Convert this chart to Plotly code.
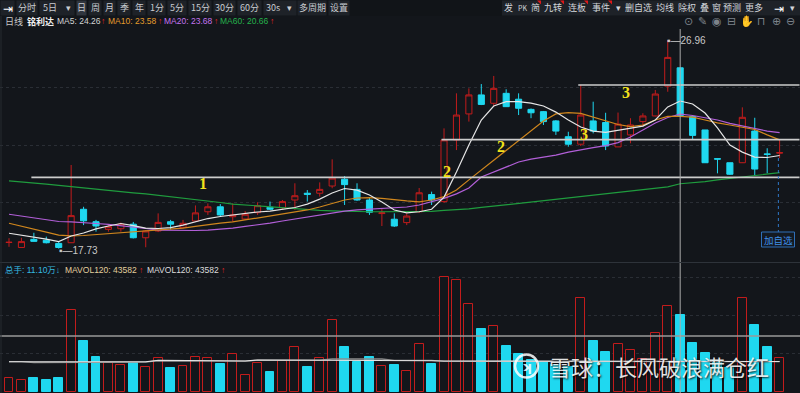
import plotly.graph_objects as go

# ---------------- data ----------------
day_index = list(range(63))
opens = [18.00, 17.78, 18.14, 18.10, 17.96, 17.99, 19.47, 18.92, 18.58, 18.61,
         18.81, 18.21, 18.51, 18.92, 18.67, 18.95, 19.36, 19.58, 19.14, 19.04,
         19.32, 19.56, 19.54, 19.88, 20.18, 20.18, 20.50, 20.80, 20.35, 19.88,
         19.28, 19.03, 18.88, 19.36, 20.12, 19.81, 22.54, 23.69, 24.53, 24.16,
         24.60, 24.34, 23.89, 23.79, 23.38, 22.68, 22.35, 23.38, 23.31, 22.23,
         22.76, 23.35, 23.60, 24.92, 25.73, 23.57, 22.98, 21.71, 21.53, 21.53,
         22.93, 21.92, 21.96]
highs = [18.19, 18.21, 18.43, 18.26, 18.04, 21.43, 19.58, 19.00, 18.77, 18.88,
         18.91, 18.55, 19.29, 19.00, 19.00, 19.64, 19.73, 19.70, 19.73, 19.39,
         19.78, 19.81, 19.88, 20.62, 20.32, 20.66, 21.68, 20.94, 20.62, 19.97,
         19.51, 19.29, 19.29, 20.41, 20.25, 23.05, 24.60, 24.82, 25.01, 25.37,
         24.78, 24.60, 23.93, 23.82, 23.42, 22.90, 24.97, 24.23, 23.74, 23.75,
         23.50, 23.72, 24.75, 26.96, 25.73, 23.57, 22.98, 21.72, 21.53, 23.98,
         23.52, 22.17, 22.54]
lows = [17.81, 17.77, 18.04, 17.96, 17.73, 17.98, 18.77, 18.48, 18.48, 18.48,
        18.18, 17.79, 18.46, 18.58, 18.64, 18.91, 19.22, 19.17, 18.92, 19.00,
        19.22, 19.44, 19.48, 19.44, 19.81, 20.03, 20.40, 19.66, 19.84, 19.22,
        18.73, 18.69, 18.77, 19.31, 19.66, 19.75, 22.09, 23.35, 24.08, 24.01,
        24.00, 23.64, 23.50, 23.20, 22.76, 22.24, 22.27, 22.83, 22.09, 22.23,
        22.39, 23.12, 23.58, 24.67, 23.55, 22.54, 21.52, 21.06, 20.99, 21.52,
        20.96, 21.06, 21.73]
closes = [18.01, 18.04, 18.05, 17.99, 17.78, 19.19, 18.96, 18.73, 18.70, 18.81,
          18.21, 18.51, 18.89, 18.81, 18.85, 19.31, 19.58, 19.22, 19.22, 19.25,
          19.63, 19.47, 19.81, 20.07, 20.13, 20.35, 20.85, 20.56, 19.88, 19.34,
          19.31, 18.73, 19.17, 20.20, 19.88, 22.54, 23.64, 24.53, 24.11, 24.82,
          24.01, 23.94, 23.74, 23.35, 22.93, 22.35, 23.64, 22.93, 22.27, 23.24,
          23.20, 23.60, 24.57, 26.19, 23.61, 22.74, 21.53, 21.69, 21.02, 23.54,
          21.25, 21.90, 21.97]
ma5 = [18.41, 18.33, 18.23, 18.15, 18.04, 18.29, 18.42, 18.60, 18.73, 18.84,
       18.75, 18.64, 18.62, 18.66, 18.77, 18.91, 19.06, 19.15, 19.22, 19.28,
       19.35, 19.39, 19.46, 19.55, 19.70, 19.92, 20.19, 20.39, 20.32, 20.10,
       19.79, 19.44, 19.31, 19.36, 19.47, 20.01, 21.12, 22.31, 23.42, 24.04,
       24.23, 24.23, 24.17, 24.04, 23.77, 23.42, 23.11, 22.93, 22.87, 22.96,
       23.04, 23.15, 23.42, 24.00, 24.26, 24.13, 23.73, 23.07, 22.31, 22.00,
       21.78, 21.76, 21.85]
ma10 = [18.85, 18.73, 18.60, 18.46, 18.33, 18.29, 18.31, 18.35, 18.40, 18.43,
        18.46, 18.51, 18.55, 18.58, 18.64, 18.71, 18.80, 18.86, 18.91, 19.00,
        19.08, 19.17, 19.26, 19.35, 19.44, 19.57, 19.73, 19.88, 19.97, 19.99,
        19.95, 19.88, 19.84, 19.80, 19.88, 20.03, 20.32, 20.77, 21.21, 21.65,
        22.09, 22.54, 22.98, 23.38, 23.69, 23.75, 23.71, 23.55, 23.38, 23.22,
        23.13, 23.20, 23.42, 23.58, 23.58, 23.55, 23.42, 23.29, 23.20, 23.11,
        23.00, 22.76, 22.54]
ma20 = [19.25, 19.17, 19.08, 19.00, 18.93, 18.91, 18.89, 18.84, 18.80, 18.75,
        18.69, 18.62, 18.55, 18.54, 18.52, 18.53, 18.55, 18.58, 18.64, 18.71,
        18.77, 18.86, 18.95, 19.04, 19.13, 19.22, 19.31, 19.39, 19.44, 19.48,
        19.50, 19.55, 19.57, 19.66, 19.79, 19.95, 20.15, 20.41, 20.90, 21.12,
        21.34, 21.56, 21.69, 21.78, 21.87, 22.00, 22.11, 22.20, 22.29, 22.42,
        22.67, 22.98, 23.29, 23.53, 23.68, 23.62, 23.53, 23.42, 23.27, 23.15,
        23.04, 22.93, 22.86]
ma60 = [20.73, 20.69, 20.63, 20.58, 20.53, 20.47, 20.42, 20.37, 20.31, 20.26,
        20.20, 20.15, 20.09, 20.04, 19.98, 19.90, 19.84, 19.77, 19.70, 19.66,
        19.61, 19.57, 19.53, 19.48, 19.45, 19.42, 19.40, 19.38, 19.37, 19.36,
        19.36, 19.36, 19.36, 19.36, 19.38, 19.42, 19.45, 19.49, 19.55, 19.61,
        19.66, 19.72, 19.78, 19.85, 19.91, 19.97, 20.02, 20.08, 20.15, 20.22,
        20.28, 20.34, 20.39, 20.46, 20.60, 20.63, 20.69, 20.77, 20.83, 20.90,
        20.96, 21.03, 21.09]
volume_wan = [1.97, 1.68, 1.97, 1.68, 2.06, 11.80, 7.38, 4.99, 4.17, 3.88,
              4.13, 3.60, 4.85, 3.50, 3.70, 4.99, 4.85, 4.07, 5.42, 2.40,
              4.22, 2.92, 4.50, 6.52, 3.64, 4.94, 10.32, 6.52, 4.36, 4.99,
              3.70, 3.84, 3.02, 6.91, 4.07, 16.50, 16.12, 12.71, 9.06, 9.50,
              6.66, 5.42, 4.60, 4.36, 3.88, 3.64, 13.57, 7.29, 5.80, 6.86,
              6.00, 4.75, 8.45, 12.42, 11.10, 7.05, 5.57, 4.46, 3.41, 13.48,
              9.60, 6.47, 4.85]
mavol_a = [4.36] * 12 + [4.55] * 7 + [4.45] + [4.60] * 10 + [4.50] * 5 + [4.45] * 16 + [4.38] * 12
mavol_b = [4.36] * 2 + [4.22] * 4 + [4.30] * 6 + [4.52] * 7 + [4.45] + [4.58] * 6 + [4.75] * 5 + [4.55] * 4 + [4.42] * 16 + [4.36] * 12

level_prices = [20.88, 22.55, 24.97]     # drawn horizontal lines
level_starts = [2, 35, 46]
vol_level = 8.06
tag_texts = ["1", "2", "2", "3", "3"]
tag_x = [15.6, 35.24, 39.56, 46.26, 49.64]
tag_y = [20.59, 21.13, 22.24, 22.79, 24.65]
cursor_day = 54
last_day = 62
hi_label = "26.96"
lo_label = "17.73"

# ---------------- style ----------------
BG = "#13161b"
RED = "#c21c1c"
CYAN = "#1fd8f0"
W, H = 800, 393
FONT = "Liberation Sans, Noto Sans CJK SC, sans-serif"
CJK = "Noto Sans CJK SC, sans-serif"


def px(x):
    return x / W


def py(y):
    return 1 - y / H


def note(x, y, text, size, color, family=CJK, anchor="center", **kw):
    d = dict(x=px(x), y=py(y), xref="paper", yref="paper", xanchor=anchor, yanchor="middle",
             text=text, showarrow=False, font=dict(family=family, size=size, color=color))
    d["font"].update(kw.pop("fontextra", {}))
    d.update(kw)
    return d


fig = go.Figure()

fig.add_trace(go.Candlestick(
    x=day_index, open=opens, high=highs, low=lows, close=closes,
    increasing=dict(line=dict(color=RED, width=1), fillcolor=BG),
    decreasing=dict(line=dict(color=CYAN, width=1), fillcolor=CYAN),
    whiskerwidth=0, hoverinfo="skip", xaxis="x", yaxis="y", showlegend=False))

for vals, col in [(ma60, "#1f9c3e"), (ma20, "#b25fd8"), (ma10, "#cf861d"), (ma5, "#e6e6e6")]:
    fig.add_trace(go.Scatter(x=day_index, y=vals, mode="lines",
                             line=dict(color=col, width=1.2),
                             hoverinfo="skip", xaxis="x", yaxis="y"))

for p, s in zip(level_prices, level_starts):
    fig.add_trace(go.Scatter(x=[s - 0.2, 63.6], y=[p, p], mode="lines",
                             line=dict(color="#cccccc", width=1.7),
                             hoverinfo="skip", xaxis="x", yaxis="y"))

up = [c >= o for o, c in zip(opens, closes)]
fig.add_trace(go.Bar(
    x=day_index, y=volume_wan, width=0.72,
    marker=dict(color=[BG if u else CYAN for u in up],
                line=dict(color=[RED if u else CYAN for u in up], width=1)),
    hoverinfo="skip", xaxis="x2", yaxis="y2"))
fig.add_trace(go.Scatter(x=day_index, y=mavol_b, mode="lines", line=dict(color="#8c8c8c", width=1.3),
                         hoverinfo="skip", xaxis="x2", yaxis="y2"))
fig.add_trace(go.Scatter(x=day_index, y=mavol_a, mode="lines", line=dict(color="#e4e4e4", width=1.1),
                         hoverinfo="skip", xaxis="x2", yaxis="y2"))
fig.add_trace(go.Scatter(x=[-1, 64], y=[vol_level, vol_level], mode="lines",
                         line=dict(color="#9a9a9a", width=1.5), hoverinfo="skip",
                         xaxis="x2", yaxis="y2"))

ann = []
shapes = []

# yellow tags
for t, x, y in zip(tag_texts, tag_x, tag_y):
    ann.append(dict(x=x, y=y, xref="x", yref="y", text="<b>%s</b>" % t, showarrow=False,
                    font=dict(family="Liberation Serif, serif", size=16, color="#f2e21c")))

# high / low labels
ann.append(dict(x=53, y=26.96, xref="x", yref="y", xanchor="left", yanchor="middle", xshift=-3,
                text="▪—" + hi_label, showarrow=False, font=dict(family=FONT, size=10, color="#c8c8c8")))
ann.append(dict(x=4, y=17.73, xref="x", yref="y", xanchor="left", yanchor="middle", xshift=-2, yshift=-2,
                text="▪—" + lo_label, showarrow=False, font=dict(family=FONT, size=10, color="#c8c8c8")))

# crosshair and pane separators
shapes.append(dict(type="line", xref="x", yref="paper", x0=cursor_day, x1=cursor_day,
                   y0=py(29), y1=0, line=dict(color="#a9a9a9", width=1)))
shapes.append(dict(type="line", xref="paper", yref="paper", x0=0, x1=1, y0=py(262.5), y1=py(262.5),
                   line=dict(color="#2e333a", width=1)))
shapes.append(dict(type="line", xref="paper", yref="paper", x0=px(1), x1=px(1), y0=py(16), y1=0,
                   line=dict(color="#262a31", width=1)))

# add-to-watchlist marker
shapes.append(dict(type="line", xref="x", yref="paper", x0=last_day - 0.1, x1=last_day - 0.1,
                   y0=py(158), y1=py(232), line=dict(color="#2f78c8", width=1, dash="dot")))
shapes.append(dict(type="rect", xref="paper", yref="paper", x0=px(761.5), x1=px(794.5),
                   y0=py(247), y1=py(232), line=dict(color="#2f6fb8", width=1), fillcolor="#141a22"))
ann.append(note(778, 239.5, "加自选", 9.5, "#3f8fe8"))

# toolbar row
shapes.append(dict(type="rect", xref="paper", yref="paper", x0=0, x1=1, y0=py(16), y1=1,
                   line=dict(width=0), fillcolor="#111418", layer="below"))
left_items = [("⇥", 0, 15), ("分时", 16, 38), ("5日", 39, 61), ("▾", 61, 75), ("日", 76, 87),
              ("周", 88, 102), ("月", 103, 116), ("季", 117, 131), ("年", 132, 146),
              ("1分", 147, 166), ("5分", 167, 187), ("15分", 188, 212), ("30分", 213, 236),
              ("60分", 237, 262), ("30s", 263, 283), ("▾", 283, 296), ("多周期", 297, 327),
              ("设置", 328, 350)]
for lab, a, b in left_items:
    if lab != "▾":
        fill = "#30353d" if lab == "日" else "#1e2228"
        x0 = a + 0.5
        x1 = b - 0.5
        if lab in ("5日", "30s"):
            x1 = b + 13.5
        shapes.append(dict(type="rect", xref="paper", yref="paper", x0=px(x0), x1=px(x1),
                           y0=py(15.5), y1=py(0.5), line=dict(width=0), fillcolor=fill, layer="below"))
    ann.append(note((a + b) / 2, 8, lab, 9 if lab != "⇥" else 12,
                    "#ffffff" if lab == "⇥" else "#c9ccd1"))

shapes.append(dict(type="rect", xref="paper", yref="paper", x0=px(502), x1=1, y0=py(15.5), y1=py(0.5),
                   line=dict(width=0), fillcolor="#1e2228", layer="below"))
right_items = [("发", 508), ("PK", 522), ("简", 535), ("九转", 553), ("连板", 577), ("事件", 601),
               ("▾", 618), ("删自选", 638), ("均线", 665), ("除权", 687), ("叠", 704), ("窗", 716),
               ("预测", 732), ("更多", 754), ("⇥", 779), ("▾", 792)]
for lab, c in right_items:
    ann.append(note(c, 8, lab, 7 if lab == "PK" else (12 if lab == "⇥" else 9),
                    "#ffffff" if lab == "⇥" else "#d2d5da"))
for c in [541, 564, 588, 612]:
    shapes.append(dict(type="path", xref="paper", yref="paper",
                       path="M %f %f L %f %f L %f %f Z" % (px(c - 4), py(0.5), px(c), py(0.5), px(c), py(4.5)),
                       line=dict(width=0), fillcolor="#e01818"))

# header row with moving averages
hdr = [("日线", 3, "#c8c8c8", CJK), ("<b>铭利达</b>", 25, "#f0f0f0", CJK),
       ("MA5: 24.26", 55, "#d4d4d4", FONT), ("↑", 99, "#e02424", FONT),
       ("MA10: 23.58", 106, "#e39b2c", FONT), ("↑", 155.5, "#e02424", FONT),
       ("MA20: 23.68", 162, "#c474ee", FONT), ("↑", 211.5, "#e02424", FONT),
       ("MA60: 20.66", 218, "#25b14b", FONT), ("↑", 267.5, "#e02424", FONT)]
for t, x, col, fam in hdr:
    ann.append(note(x, 21.5, t, 8.5 if fam == FONT else 9, col, family=fam, anchor="left"))
for g, x in zip(["⊙", "✎", "◉", "⊟", "✋", "⊓", "⊕", "⊖"], [688, 702, 717, 731, 747, 761, 776, 790]):
    ann.append(note(x, 22, g, 11, "#7d838b", family="DejaVu Sans"))

# volume header
vh = [("总手: 11.10万↓", 3, "#35b9e0"), ("MAVOL120: 43582", 63, "#e2cf9e"), ("↑", 136.5, "#e02424"),
      ("MAVOL120: 43582", 145, "#dcdcdc"), ("↑", 218.5, "#e02424")]
for t, x, col in vh:
    ann.append(note(x, 270, t, 8.5, col, family=FONT, anchor="left"))

# watermark
shapes.append(dict(type="circle", xref="paper", yref="paper", x0=px(515), x1=px(538), y0=py(377.5), y1=py(354.5),
                   line=dict(color="rgba(255,255,255,0.85)", width=2.5)))
ann.append(note(527, 366, "<b>ʞ</b>", 13, "rgba(255,255,255,0.85)", family="DejaVu Sans"))
ann.append(note(547, 366, "雪球：长风破浪满仓红", 22, "rgba(255,255,255,0.88)", anchor="left",
                fontextra=dict(shadow="1px 1px 2px rgba(0,0,0,0.9)")))

grid_prices = [24.88, 22.31, 19.75]
grid_vols = [16.5, 11.04, 5.57]
xr = [-0.724, 63.64]
fig.update_layout(
    width=W, height=H, margin=dict(l=0, r=0, t=0, b=0),
    paper_bgcolor=BG, plot_bgcolor=BG, showlegend=False, bargap=0,
    xaxis=dict(domain=[0, 1], range=xr, visible=False, rangeslider=dict(visible=False), anchor="y"),
    xaxis2=dict(domain=[0, 1], range=xr, visible=False, anchor="y2"),
    yaxis=dict(domain=[py(263), py(16)], range=[17.093, 28.022], showticklabels=False, ticks="",
               tickvals=grid_prices, gridcolor="#2a2e35", griddash="dot", zeroline=False, fixedrange=True),
    yaxis2=dict(domain=[0, py(263)], range=[-0.144, 18.56], showticklabels=False, ticks="",
                tickvals=grid_vols, gridcolor="#2a2e35", griddash="dot", zeroline=False),
    annotations=ann, shapes=shapes,
)
fig.write_html("out.html", config={"displayModeBar": False},
               post_script="document.body.style.margin='0px';"
                           "document.documentElement.style.overflow='hidden';")
